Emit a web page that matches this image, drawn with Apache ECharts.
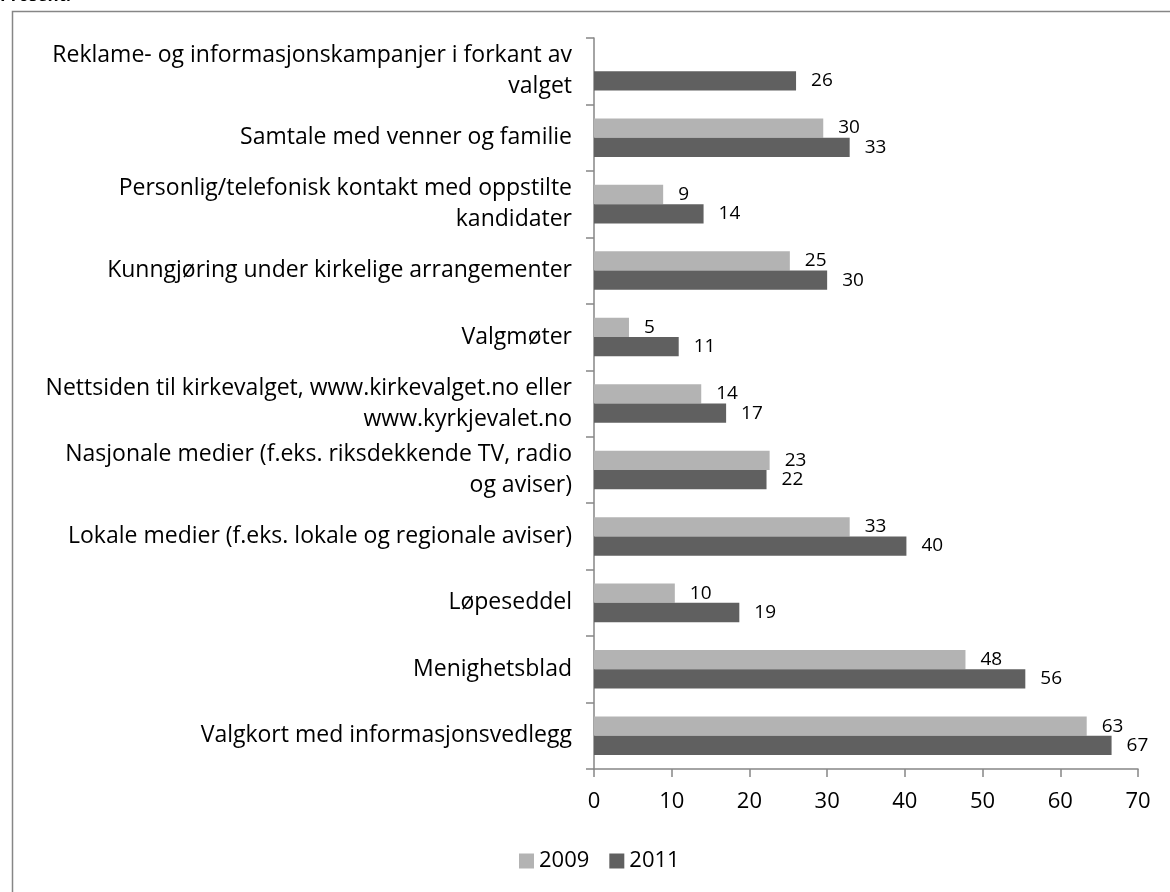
<!DOCTYPE html>
<html>
<head>
<meta charset="utf-8">
<style>
  html, body { margin: 0; padding: 0; background: #fff; }
  #chart { width: 1170px; height: 892px; }
</style>
<script src="https://cdn.jsdelivr.net/npm/echarts@6/dist/echarts.min.js"></script>
</head>
<body>
<div id="chart"></div>
<script>
// kategorier, ovenfra og ned
const categories = [
  "Reklame- og informasjonskampanjer i forkant av\nvalget",
  "Samtale med venner og familie",
  "Personlig/telefonisk kontakt med oppstilte\nkandidater",
  "Kunngjøring under kirkelige arrangementer",
  "Valgmøter",
  "Nettsiden til kirkevalget, www.kirkevalget.no eller\nwww.kyrkjevalet.no",
  "Nasjonale medier (f.eks. riksdekkende TV, radio\nog aviser)",
  "Lokale medier (f.eks. lokale og regionale aviser)",
  "Løpeseddel",
  "Menighetsblad",
  "Valgkort med informasjonsvedlegg"
];
const values2009 = [null, 29.5, 8.9, 25.2, 4.5, 13.8, 22.6, 32.9, 10.4, 47.8, 63.4];
const values2011 = [26.0, 32.9, 14.1, 30.0, 10.9, 17.0, 22.2, 40.2, 18.7, 55.5, 66.6];
const xTicks = { min: 0, max: 70, interval: 10 };

const font = "Open Sans";
const axisGray = "#868686";

const chart = echarts.init(document.getElementById("chart"));

function barLabel() {
  return {
    show: true,
    position: "right",
    distance: 15,
    color: "#000",
    fontFamily: font,
    fontSize: 19,
    formatter: p => (p.value == null ? "" : Math.round(p.value))
  };
}

const option = {
  animation: false,
  backgroundColor: "#fff",
  textStyle: { fontFamily: font },
  graphic: [
    {
      type: "rect",
      left: 10,
      top: 9,
      shape: { width: 1300, height: 1000 },
      style: { fill: "none", stroke: axisGray, lineWidth: 1.5 },
      silent: true
    },
    {
      type: "text",
      left: 0,
      top: -12,
      z: 10,
      style: { text: "Prosent:", font: "bold 17px " + font, fill: "#000" }
    }
  ],
  legend: {
    bottom: 15,
    left: 514,
    itemWidth: 15,
    itemHeight: 15,
    itemGap: 20,
    icon: "rect",
    textStyle: { fontFamily: font, fontSize: 22, color: "#000" },
    data: ["2009", "2011"]
  },
  grid: {
    left: 594,
    right: 32,
    top: 38,
    bottom: 123,
    outerBoundsMode: "none"
  },
  xAxis: {
    type: "value",
    min: xTicks.min,
    max: xTicks.max,
    interval: xTicks.interval,
    splitLine: { show: false },
    axisLine: { show: true, lineStyle: { color: axisGray, width: 1.5 } },
    axisTick: { show: true, length: 8, lineStyle: { color: axisGray, width: 1.5 } },
    axisLabel: { color: "#000", fontFamily: font, fontSize: 22, margin: 22 }
  },
  yAxis: {
    type: "category",
    inverse: true,
    data: categories,
    axisLine: { show: true, lineStyle: { color: axisGray, width: 1.5 } },
    axisTick: { show: true, length: 8, lineStyle: { color: axisGray, width: 1.5 } },
    axisLabel: {
      color: "#000",
      fontFamily: font,
      fontSize: 23,
      lineHeight: 31,
      margin: 22,
      padding: [6, 0, 0, 0],
      align: "right"
    }
  },
  series: [
    {
      name: "2009",
      type: "bar",
      data: values2009,
      barGap: "0%",
      barCategoryGap: "42%",
      itemStyle: { color: "#b3b3b3" },
      label: barLabel()
    },
    {
      name: "2011",
      type: "bar",
      data: values2011,
      barGap: "0%",
      barCategoryGap: "42%",
      itemStyle: { color: "#606060" },
      label: barLabel()
    }
  ]
};

chart.setOption(option);
window.addEventListener("resize", () => chart.resize());
</script>
</body>
</html>
